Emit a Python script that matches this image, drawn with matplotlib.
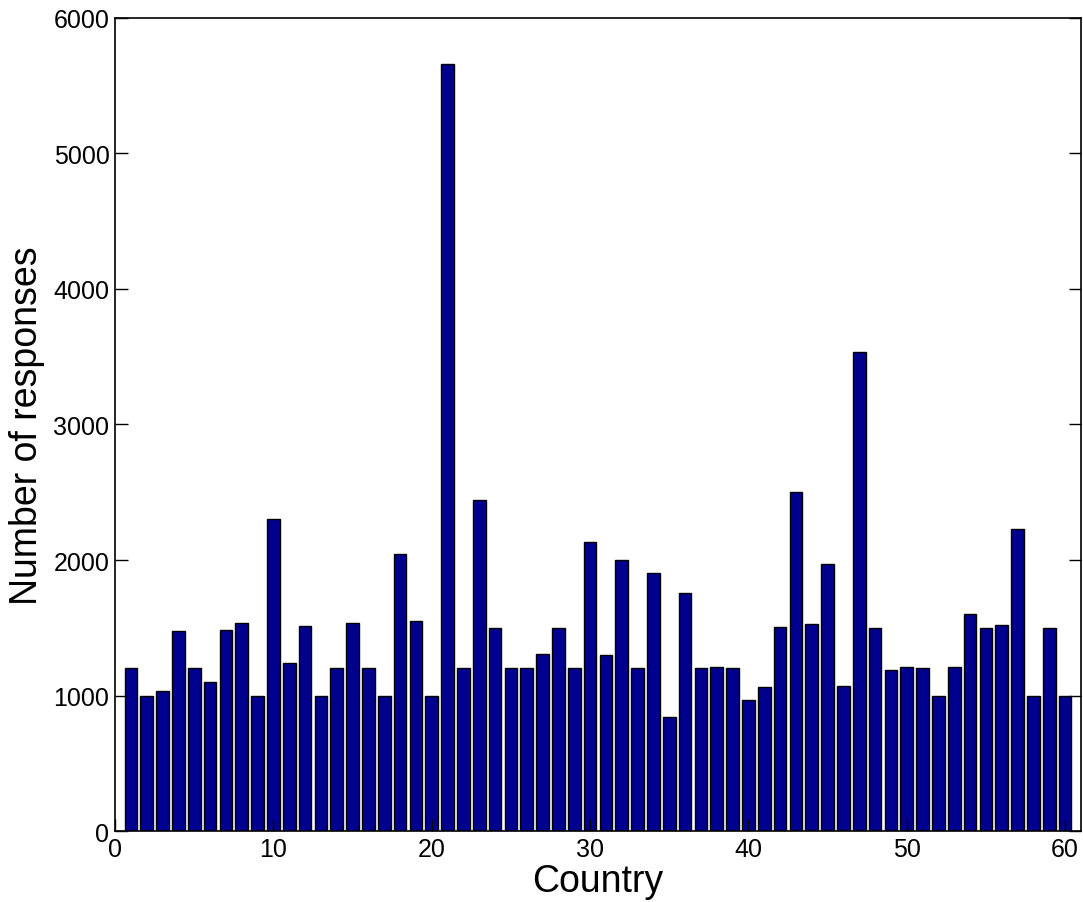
import matplotlib
matplotlib.use('Agg')
import matplotlib.pyplot as plt
import numpy as np

plt.rcParams['font.family'] = ['Liberation Sans', 'DejaVu Sans']

# responses per country
country = np.arange(1, 61)
responses = [1200, 1000, 1030, 1477, 1200, 1100, 1487, 1536, 1000, 2300,
             1240, 1514, 1000, 1200, 1534, 1200, 1000, 2045, 1553, 1000,
             5663, 1200, 2444, 1500, 1200, 1200, 1305, 1500, 1200, 2134,
             1300, 2000, 1200, 1902, 840, 1760, 1200, 1210, 1200, 968,
             1061, 1503, 2500, 1526, 1972, 1069, 3535, 1500, 1190, 1207,
             1200, 1000, 1207, 1605, 1500, 1524, 2232, 1000, 1500, 1000]
xticks = [0, 10, 20, 30, 40, 50, 60]
yticks = [0, 1000, 2000, 3000, 4000, 5000, 6000]

fig = plt.figure(figsize=(10.83, 9.03), dpi=100)
ax = fig.add_axes([0.1062, 0.0786, 0.8918, 0.9004])
ax.bar(country, responses, width=0.8, color='#00008F', edgecolor='black', linewidth=1)

ax.set_xlim(0, 61)
ax.set_ylim(0, 6000)
ax.set_xticks(xticks)
ax.set_yticks(yticks)
ax.tick_params(direction='in', length=9, width=1, labelsize=18, top=False, right=True, pad=4)
for s in ax.spines.values():
    s.set_linewidth(1.2)

ax.set_xlabel('Country', fontsize=27, labelpad=2)
ax.set_ylabel('Number of responses', fontsize=27, labelpad=6)

plt.savefig('out.png', dpi=100)
